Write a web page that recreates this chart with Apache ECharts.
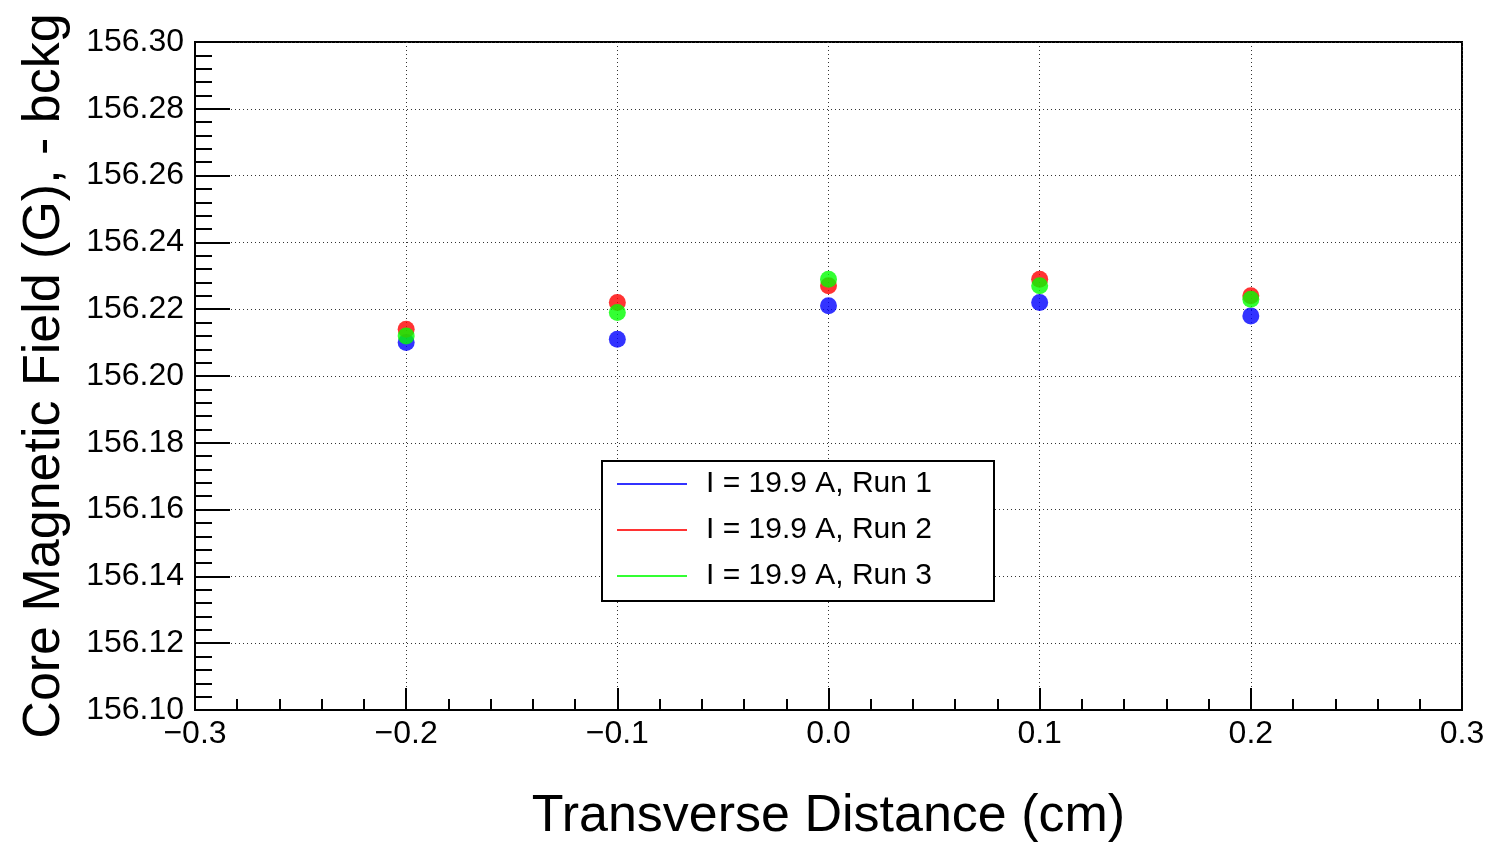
<!DOCTYPE html>
<html>
<head>
<meta charset="utf-8">
<script src="https://cdn.jsdelivr.net/npm/echarts@6/dist/echarts.min.js"></script>
<style>
html,body{margin:0;padding:0;background:#fff;}
#chart{width:1488px;height:842px;}
</style>
</head>
<body>
<div id="chart"></div>
<script>
const xValues = [-0.2, -0.1, 0.0, 0.1, 0.2];
const run1 = [156.210, 156.211, 156.221, 156.222, 156.218];
const run2 = [156.214, 156.222, 156.227, 156.229, 156.224];
const run3 = [156.212, 156.219, 156.229, 156.227, 156.223];
const seriesNames = ['I = 19.9 A, Run 1', 'I = 19.9 A, Run 2', 'I = 19.9 A, Run 3'];
const seriesColors = ['#0000ff', '#ff0000', '#00ff00'];
const xTitle = 'Transverse Distance (cm)';
const yTitle = 'Core Magnetic Field (G), - bckg';

const FONT = 'Liberation Sans, Arial, Helvetica, sans-serif';
const chart = echarts.init(document.getElementById('chart'));
const runs = [run1, run2, run3];

const option = {
  animation: false,
  backgroundColor: '#fff',
  grid: {left: 195, right: 26, top: 42, bottom: 132, show: true, borderColor: '#000', borderWidth: 2,
    backgroundColor: 'transparent', containLabel: false, outerBoundsMode: 'none'},
  xAxis: {
    type: 'value', min: -0.3, max: 0.3, interval: 0.1,
    name: xTitle, nameLocation: 'middle', nameGap: 81,
    nameTextStyle: {fontFamily: FONT, fontSize: 52, color: '#000'},
    axisLine: {show: true, onZero: false, lineStyle: {color: '#000', width: 2}},
    axisTick: {show: true, inside: true, length: 22, lineStyle: {color: '#000', width: 2}},
    minorTick: {show: true, splitNumber: 5, length: 11, lineStyle: {color: '#000', width: 2}},
    axisLabel: {fontFamily: FONT, fontSize: 32, color: '#000', margin: 8,
      formatter: v => Math.abs(v) < 1e-9 ? '0.0' : (v < 0 ? '\u2212' : '') + Math.abs(v).toFixed(1)},
    splitLine: {show: true, lineStyle: {color: '#333', width: 1, type: [1, 3]}}
  },
  yAxis: {
    type: 'value', min: 156.1, max: 156.3, interval: 0.02,
    name: yTitle, nameLocation: 'middle', nameGap: 124, nameRotate: 90,
    nameTextStyle: {fontFamily: FONT, fontSize: 52, color: '#000'},
    axisLine: {show: true, onZero: false, lineStyle: {color: '#000', width: 2}},
    axisTick: {show: true, inside: true, length: 35, lineStyle: {color: '#000', width: 2}},
    minorTick: {show: true, splitNumber: 5, length: 17, lineStyle: {color: '#000', width: 2}},
    axisLabel: {fontFamily: FONT, fontSize: 32, color: '#000', margin: 11,
      formatter: v => v.toFixed(2)},
    splitLine: {show: true, lineStyle: {color: '#333', width: 1, type: [1, 3]}}
  },
  legend: {
    show: true, orient: 'vertical', left: 601, top: 460, z: 20,
    selectedMode: false,
    padding: [9, 20, 9, 16],
    itemWidth: 70, itemHeight: 2, itemGap: 16,
    icon: 'rect',
    textStyle: {fontFamily: FONT, fontSize: 30, color: '#000', lineHeight: 30, padding: [0, 0, 0, 14]},
    data: seriesNames
  },
  graphic: [{
    type: 'rect', z: 10, left: 601, top: 460,
    shape: {width: 392, height: 140},
    style: {fill: '#fff', stroke: '#000', lineWidth: 2}
  }],
  series: runs.map((r, k) => ({
    name: seriesNames[k], type: 'scatter', symbol: 'circle', symbolSize: 17,
    itemStyle: {color: seriesColors[k]},
    data: xValues.map((x, i) => [x, r[i]])
  }))
};
chart.setOption(option);
</script>
</body>
</html>
